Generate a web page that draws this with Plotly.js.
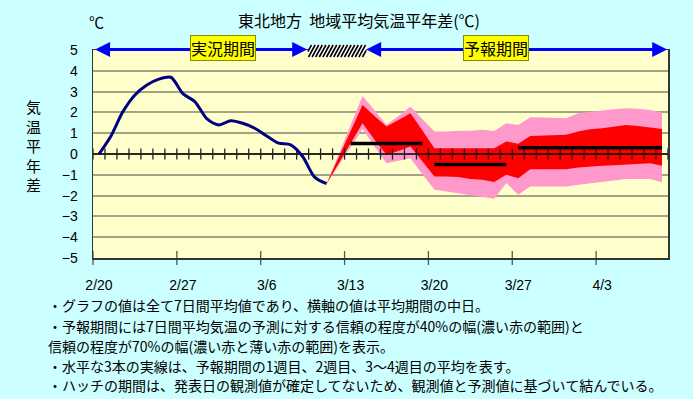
<!DOCTYPE html>
<html><head><meta charset="utf-8">
<script src="https://cdn.plot.ly/plotly-3.0.1.min.js"></script>
<style>html,body{margin:0;padding:0;background:#CCFFFF;}#chart{width:693px;height:399px;}</style>
</head><body><div id="chart"></div>
<script>
// ---- data (day index: 0 = 2/20) ----
const dateLabels = ['2/20','2/27','3/6','3/13','3/20','3/27','4/3'];
const labelDays = [0,7,14,21,28,35,42];
const obsValues = [0.0,0.87,2.04,2.84,3.32,3.6,3.69,2.9,2.52,1.7,1.4,1.6,1.48,1.24,0.87,0.52,0.44,-0.12,-1.11,-1.43];
const fcstDays = [19,22,23,24,25,26,27,28,29,30,31,32,33,34,35,36,37,38,39,40,41,42,43,44,45,46,47];
const pinkTop = [-1.43,2.79,2.10,1.40,1.83,2.28,1.67,1.08,1.08,1.12,1.12,1.16,1.10,1.48,1.40,1.77,1.75,1.74,1.72,1.96,2.04,2.09,2.15,2.20,2.17,2.12,2.00];
const redTop  = [-1.43,2.36,1.83,1.32,1.64,1.96,1.13,0.28,0.28,0.28,0.28,0.28,0.28,0.60,0.49,0.87,0.89,0.91,0.92,1.08,1.19,1.24,1.32,1.40,1.35,1.29,1.20];
const redBot  = [-1.43,1.48,0.68,-0.04,0.15,0.36,-0.36,-1.08,-1.08,-1.10,-1.20,-1.24,-1.35,-1.00,-1.16,-0.73,-0.73,-0.73,-0.73,-0.65,-0.60,-0.57,-0.54,-0.50,-0.47,-0.44,-0.57];
const pinkBot = [-1.43,1.20,0.36,-0.44,-0.33,-0.20,-0.97,-1.72,-1.80,-1.88,-1.96,-2.04,-2.15,-1.40,-1.96,-1.56,-1.56,-1.56,-1.56,-1.48,-1.40,-1.32,-1.27,-1.20,-1.20,-1.20,-1.36];
const weekStart = [21,28,35];
const weekEnd   = [27,34,47];
const weekValues = [0.5,-0.5,0.3];
const obsPeriod = [-0.33,17.38];
const hatchPeriod = [17.44,22.3];
const fcstPeriod = [22.3,47.43];
const notes = [
 '・グラフの値は全て7日間平均値であり、横軸の値は平均期間の中日。',
 '・予報期間には7日間平均気温の予測に対する信頼の程度が40%の幅(濃い赤の範囲)と',
 '信頼の程度が70%の幅(濃い赤と薄い赤の範囲)を表示。',
 '・水平な3本の実線は、予報期間の1週目、2週目、3～4週目の平均を表す。',
 '・ハッチの期間は、発表日の観測値が確定してないため、観測値と予測値に基づいて結んでいる。'
];

// ---- geometry ----
const W = 693, H = 399;
const M = {l:93, r:25, t:50, b:141};
const PW = W - M.l - M.r, PH = H - M.t - M.b;
const xRange = [-0.5, 47.5];
const yRange = [-5, 5];
const JP = 'Noto Sans CJK JP';
const NUM = 'Liberation Sans, Noto Sans CJK JP';
const px = d => (d - xRange[0]) / (xRange[1] - xRange[0]);

const obsDays = obsValues.map((_, i) => i);
const dayBounds = [];
for (let d = xRange[0]; d <= xRange[1] + 1e-9; d += 1) dayBounds.push(d);
const weekBounds = labelDays.map(d => d - 0.5);

const traces = [];
traces.push({x: fcstDays, y: pinkBot, mode: 'lines', line: {width: 0, color: '#FF99CC'}, hoverinfo: 'skip'});
traces.push({x: fcstDays, y: pinkTop, mode: 'lines', fill: 'tonexty', fillcolor: '#FF99CC', line: {width: 0, color: '#FF99CC'}, hoverinfo: 'skip'});
traces.push({x: fcstDays, y: redBot, mode: 'lines', line: {width: 0, color: '#FF0000'}, hoverinfo: 'skip'});
traces.push({x: fcstDays, y: redTop, mode: 'lines', fill: 'tonexty', fillcolor: '#FF0000', line: {width: 0, color: '#FF0000'}, hoverinfo: 'skip'});
// zero line + daily ticks
traces.push({x: xRange, y: [0, 0], mode: 'lines', line: {color: '#000', width: 1.5}, hoverinfo: 'skip'});
traces.push({x: dayBounds, y: dayBounds.map(() => 0), mode: 'markers', marker: {symbol: 'line-ns', size: 8, line: {color: '#222', width: 1.3}}, hoverinfo: 'skip'});
// weekly average lines
weekStart.forEach((s, i) => {
  traces.push({x: [s, weekEnd[i]], y: [weekValues[i], weekValues[i]], mode: 'lines', line: {color: '#000', width: 3.5}, hoverinfo: 'skip'});
});
// observed
traces.push({x: obsDays, y: obsValues, mode: 'lines', line: {color: '#000080', width: 3, shape: 'spline', smoothing: 0.8}});
// bottom axis weekly ticks
traces.push({x: weekBounds, y: weekBounds.map(() => yRange[0]), mode: 'markers', cliponaxis: false, marker: {symbol: 'line-ns', size: 10, line: {color: '#555', width: 1.3}}, hoverinfo: 'skip'});

// ---- top decorations ----
const shapes = [];
const annotations = [];
const blue = '#0000FF';
const lineY = 1.002;
[obsPeriod, fcstPeriod].forEach(p => {
  shapes.push({type: 'line', xref: 'paper', yref: 'paper', x0: px(p[0]) + 8/PW, x1: px(p[1]) - 8/PW, y0: lineY, y1: lineY, line: {color: blue, width: 3}});
  annotations.push({xref: 'paper', yref: 'paper', x: px(p[0]), y: lineY, ax: 14, ay: 0, text: '', showarrow: true, arrowhead: 2, arrowsize: 1, arrowwidth: 3, arrowcolor: blue, standoff: 0});
  annotations.push({xref: 'paper', yref: 'paper', x: px(p[1]), y: lineY, ax: -14, ay: 0, text: '', showarrow: true, arrowhead: 2, arrowsize: 1, arrowwidth: 3, arrowcolor: blue, standoff: 0});
});
// hatch box
const hx0 = M.l + PW * px(hatchPeriod[0]), hx1 = M.l + PW * px(hatchPeriod[1]);
const hyTop = 45, hyBot = 57;
const toPX = X => (X - M.l) / PW, toPY = Y => (M.t + PH - Y) / PH;
shapes.push({type: 'rect', xref: 'paper', yref: 'paper', x0: toPX(hx0), x1: toPX(hx1), y0: toPY(hyBot), y1: toPY(hyTop), fillcolor: '#FFFFFF', line: {width: 0}});
let path = '';
const hh = hyBot - hyTop, slant = hh * 0.55;
for (let xa = hx0 - slant; xa < hx1; xa += 3.6) {
  const t0 = Math.max(0, (hx0 - xa) / slant), t1 = Math.min(1, (hx1 - xa) / slant);
  if (t0 >= t1) continue;
  const xs = xa + slant * t0, ys = hyBot - hh * t0, xe = xa + slant * t1, ye = hyBot - hh * t1;
  path += `M${toPX(xs)},${toPY(ys)}L${toPX(xe)},${toPY(ye)}`;
}
shapes.push({type: 'path', xref: 'paper', yref: 'paper', path: path, line: {color: '#000', width: 1.6}});

annotations.push({xref: 'paper', yref: 'paper', x: toPX(223.3), y: toPY(48), text: '実況期間', showarrow: false, font: {family: JP, size: 16, color: '#000'}, bgcolor: '#FFFF00', bordercolor: '#8a8a00', borderwidth: 1, borderpad: 0, xanchor: 'center', yanchor: 'middle'});
annotations.push({xref: 'paper', yref: 'paper', x: toPX(495.6), y: toPY(48), text: '予報期間', showarrow: false, font: {family: JP, size: 16, color: '#000'}, bgcolor: '#FFFF00', bordercolor: '#8a8a00', borderwidth: 1, borderpad: 0, xanchor: 'center', yanchor: 'middle'});
annotations.push({xref: 'paper', yref: 'paper', x: toPX(96), y: toPY(21), text: '℃', showarrow: false, font: {family: JP, size: 15, color: '#000'}, xanchor: 'center', yanchor: 'middle'});
annotations.push({xref: 'paper', yref: 'paper', x: toPX(33), y: toPY(145), text: '気<br>温<br>平<br>年<br>差', showarrow: false, font: {family: JP, size: 15, color: '#000'}, xanchor: 'center', yanchor: 'middle'});
const noteY = [305, 326, 346, 366, 385];
notes.forEach((t, i) => {
  annotations.push({xref: 'paper', yref: 'paper', x: toPX(46), y: toPY(noteY[i]), text: t, align: 'left', showarrow: false, font: {family: JP, size: 14, color: '#000'}, xanchor: 'left', yanchor: 'middle'});
});

const layout = {
  width: W, height: H,
  margin: M,
  paper_bgcolor: '#CCFFFF',
  plot_bgcolor: '#FFFFCC',
  showlegend: false,
  title: {text: '東北地方  地域平均気温平年差(℃)', font: {family: JP, size: 16, color: '#000'}, x: 359 / W, xanchor: 'center', y: 1 - 21 / H, yanchor: 'middle'},
  xaxis: {range: xRange, tickvals: labelDays, ticktext: dateLabels, ticks: '', showgrid: false, zeroline: false, showline: true, mirror: true, linecolor: '#333', linewidth: 1.5, tickfont: {family: NUM, size: 14, color: '#000'}, ticklabelstandoff: 14, fixedrange: true},
  yaxis: {range: yRange, tickvals: [-5,-4,-3,-2,-1,0,1,2,3,4,5], ticks: '', showgrid: true, gridcolor: '#A3A385', gridwidth: 2, zeroline: false, showline: true, mirror: true, linecolor: '#333', linewidth: 1.5, tickfont: {family: NUM, size: 14, color: '#000'}, ticklabelstandoff: 11, fixedrange: true},
  shapes: shapes,
  annotations: annotations
};
Plotly.newPlot('chart', traces, layout, {staticPlot: true, displayModeBar: false});
</script></body></html>
